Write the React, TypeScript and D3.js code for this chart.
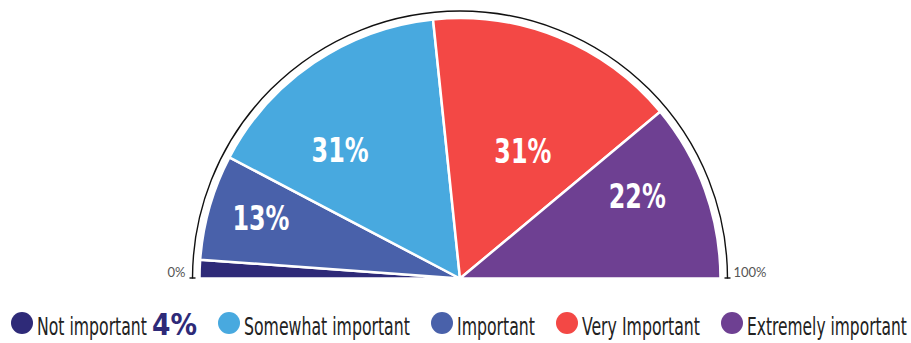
import React, { useLayoutEffect, useRef, useState } from 'react';
import * as d3 from 'd3';

// ---- data ----
const categories = ['Not important', 'Important', 'Somewhat important', 'Very Important', 'Extremely important'];
const values = [2.3, 13.1, 31.3, 31.2, 22.1];
const sliceLabels = ['', '13%', '31%', '31%', '22%'];
const colors = ['#2e2a78', '#4961aa', '#48a9df', '#f34845', '#6e4092'];
const legendItems = ['Not important', 'Somewhat important', 'Important', 'Very Important', 'Extremely important'];
const legendExtra = '4%';
const axisLabels = ['0%', '100%'];

// ---- layout / style ----
const W = 911;
const H = 343;
const cx = 460;
const cy = 278.5;
const R = 260.5;
const outerR = 267.5;
const labelR = 180;
const labelNudge: [number, number][] = [[0, 0], [-26, -11], [-19, 21], [-5, 39], [8, -21]];
const legendTextWidths = [110, 166, 78, 118, 160];
const extraWidth = 45;
const NUM_FONT = "'DejaVu Sans Condensed', 'DejaVu Sans', sans-serif";
const TXT_FONT = "'DejaVu Sans Condensed', 'DejaVu Sans', sans-serif";

type FitProps = {
  x: number;
  y: number;
  width: number;
  anchor?: 'start' | 'middle';
  children: string;
  [k: string]: any;
};

function FitText({ x, y, width, anchor = 'start', children, ...rest }: FitProps) {
  const ref = useRef<SVGTextElement>(null);
  const [sx, setSx] = useState(1);
  useLayoutEffect(() => {
    if (ref.current) {
      const w = ref.current.getComputedTextLength();
      if (w > 0) setSx(width / w);
    }
  }, [width, children]);
  return (
    <g transform={`translate(${x},${y}) scale(${sx},1)`}>
      <text ref={ref} x={0} y={0} textAnchor={anchor} {...rest}>
        {children}
      </text>
    </g>
  );
}

export default function App() {
  const pie = d3
    .pie<number>()
    .sort(null)
    .startAngle(-Math.PI / 2)
    .endAngle(Math.PI / 2)(values);
  const arc = d3.arc<d3.PieArcDatum<number>>().innerRadius(0).outerRadius(R);
  const labelArc = d3.arc<d3.PieArcDatum<number>>().innerRadius(labelR).outerRadius(labelR);

  const p = d3.path();
  p.arc(cx, cy, outerR, Math.PI, 2 * Math.PI);
  const outerPath = p.toString();

  // legend flow
  const circleR = 11;
  const items: { x: number; name: string; color: string; w: number; extraX?: number }[] = [];
  let x = 11;
  legendItems.forEach((name, i) => {
    const color = colors[categories.indexOf(name)];
    const item: any = { x, name, color, w: legendTextWidths[i] };
    let end = x + 2 * circleR + 4 + legendTextWidths[i];
    if (i === 0) {
      item.extraX = end + 5;
      end = item.extraX + extraWidth;
    }
    items.push(item);
    x = end + 21;
  });

  return (
    <svg
      width={W}
      height={H}
      style={{ position: 'absolute', left: 0, top: 0, background: '#fff' }}
    >
      <g transform={`translate(${cx},${cy})`}>
        {pie.map((d, i) => (
          <path key={i} d={arc(d) || ''} fill={colors[i]} stroke="#fff" strokeWidth={2.5} strokeLinejoin="round" />
        ))}
        {pie.map((d, i) => {
          if (!sliceLabels[i]) return null;
          const [lx, ly] = labelArc.centroid(d);
          return (
            <FitText
              key={'l' + i}
              x={lx + labelNudge[i][0]}
              y={ly + labelNudge[i][1] + 12}
              width={57}
              anchor="middle"
              fill="#fff"
              fontFamily={NUM_FONT}
              fontWeight="bold"
              fontSize={34}
            >
              {sliceLabels[i]}
            </FitText>
          );
        })}
      </g>
      <path d={outerPath} fill="none" stroke="#111" strokeWidth={1.4} />
      <line x1={cx - outerR - 3} x2={cx - outerR + 3} y1={cy - 0.5} y2={cy - 0.5} stroke="#111" strokeWidth={1.4} />
      <line x1={cx + outerR - 3} x2={cx + outerR + 3} y1={cy - 0.5} y2={cy - 0.5} stroke="#111" strokeWidth={1.4} />
      <text x={cx - outerR - 7} y={277} textAnchor="end" fontFamily="'Lato', 'Open Sans', sans-serif" fontWeight={400} fontSize={13} fill="#555">
        {axisLabels[0]}
      </text>
      <text x={cx + outerR + 6} y={277} textAnchor="start" fontFamily="'Lato', 'Open Sans', sans-serif" fontWeight={400} fontSize={13} fill="#555">
        {axisLabels[1]}
      </text>

      {items.map((it, i) => (
        <g key={'lg' + i}>
          <circle cx={it.x + circleR} cy={323} r={circleR} fill={it.color} />
          <FitText
            x={it.x + 2 * circleR + 4}
            y={335}
            width={it.w}
            fontFamily={TXT_FONT}
            fontSize={24}
            fill="#222"
          >
            {it.name}
          </FitText>
          {it.extraX !== undefined && (
            <FitText
              x={it.extraX}
              y={335}
              width={extraWidth}
              fontFamily={NUM_FONT}
              fontWeight="bold"
              fontSize={31}
              fill={it.color}
            >
              {legendExtra}
            </FitText>
          )}
        </g>
      ))}
    </svg>
  );
}
